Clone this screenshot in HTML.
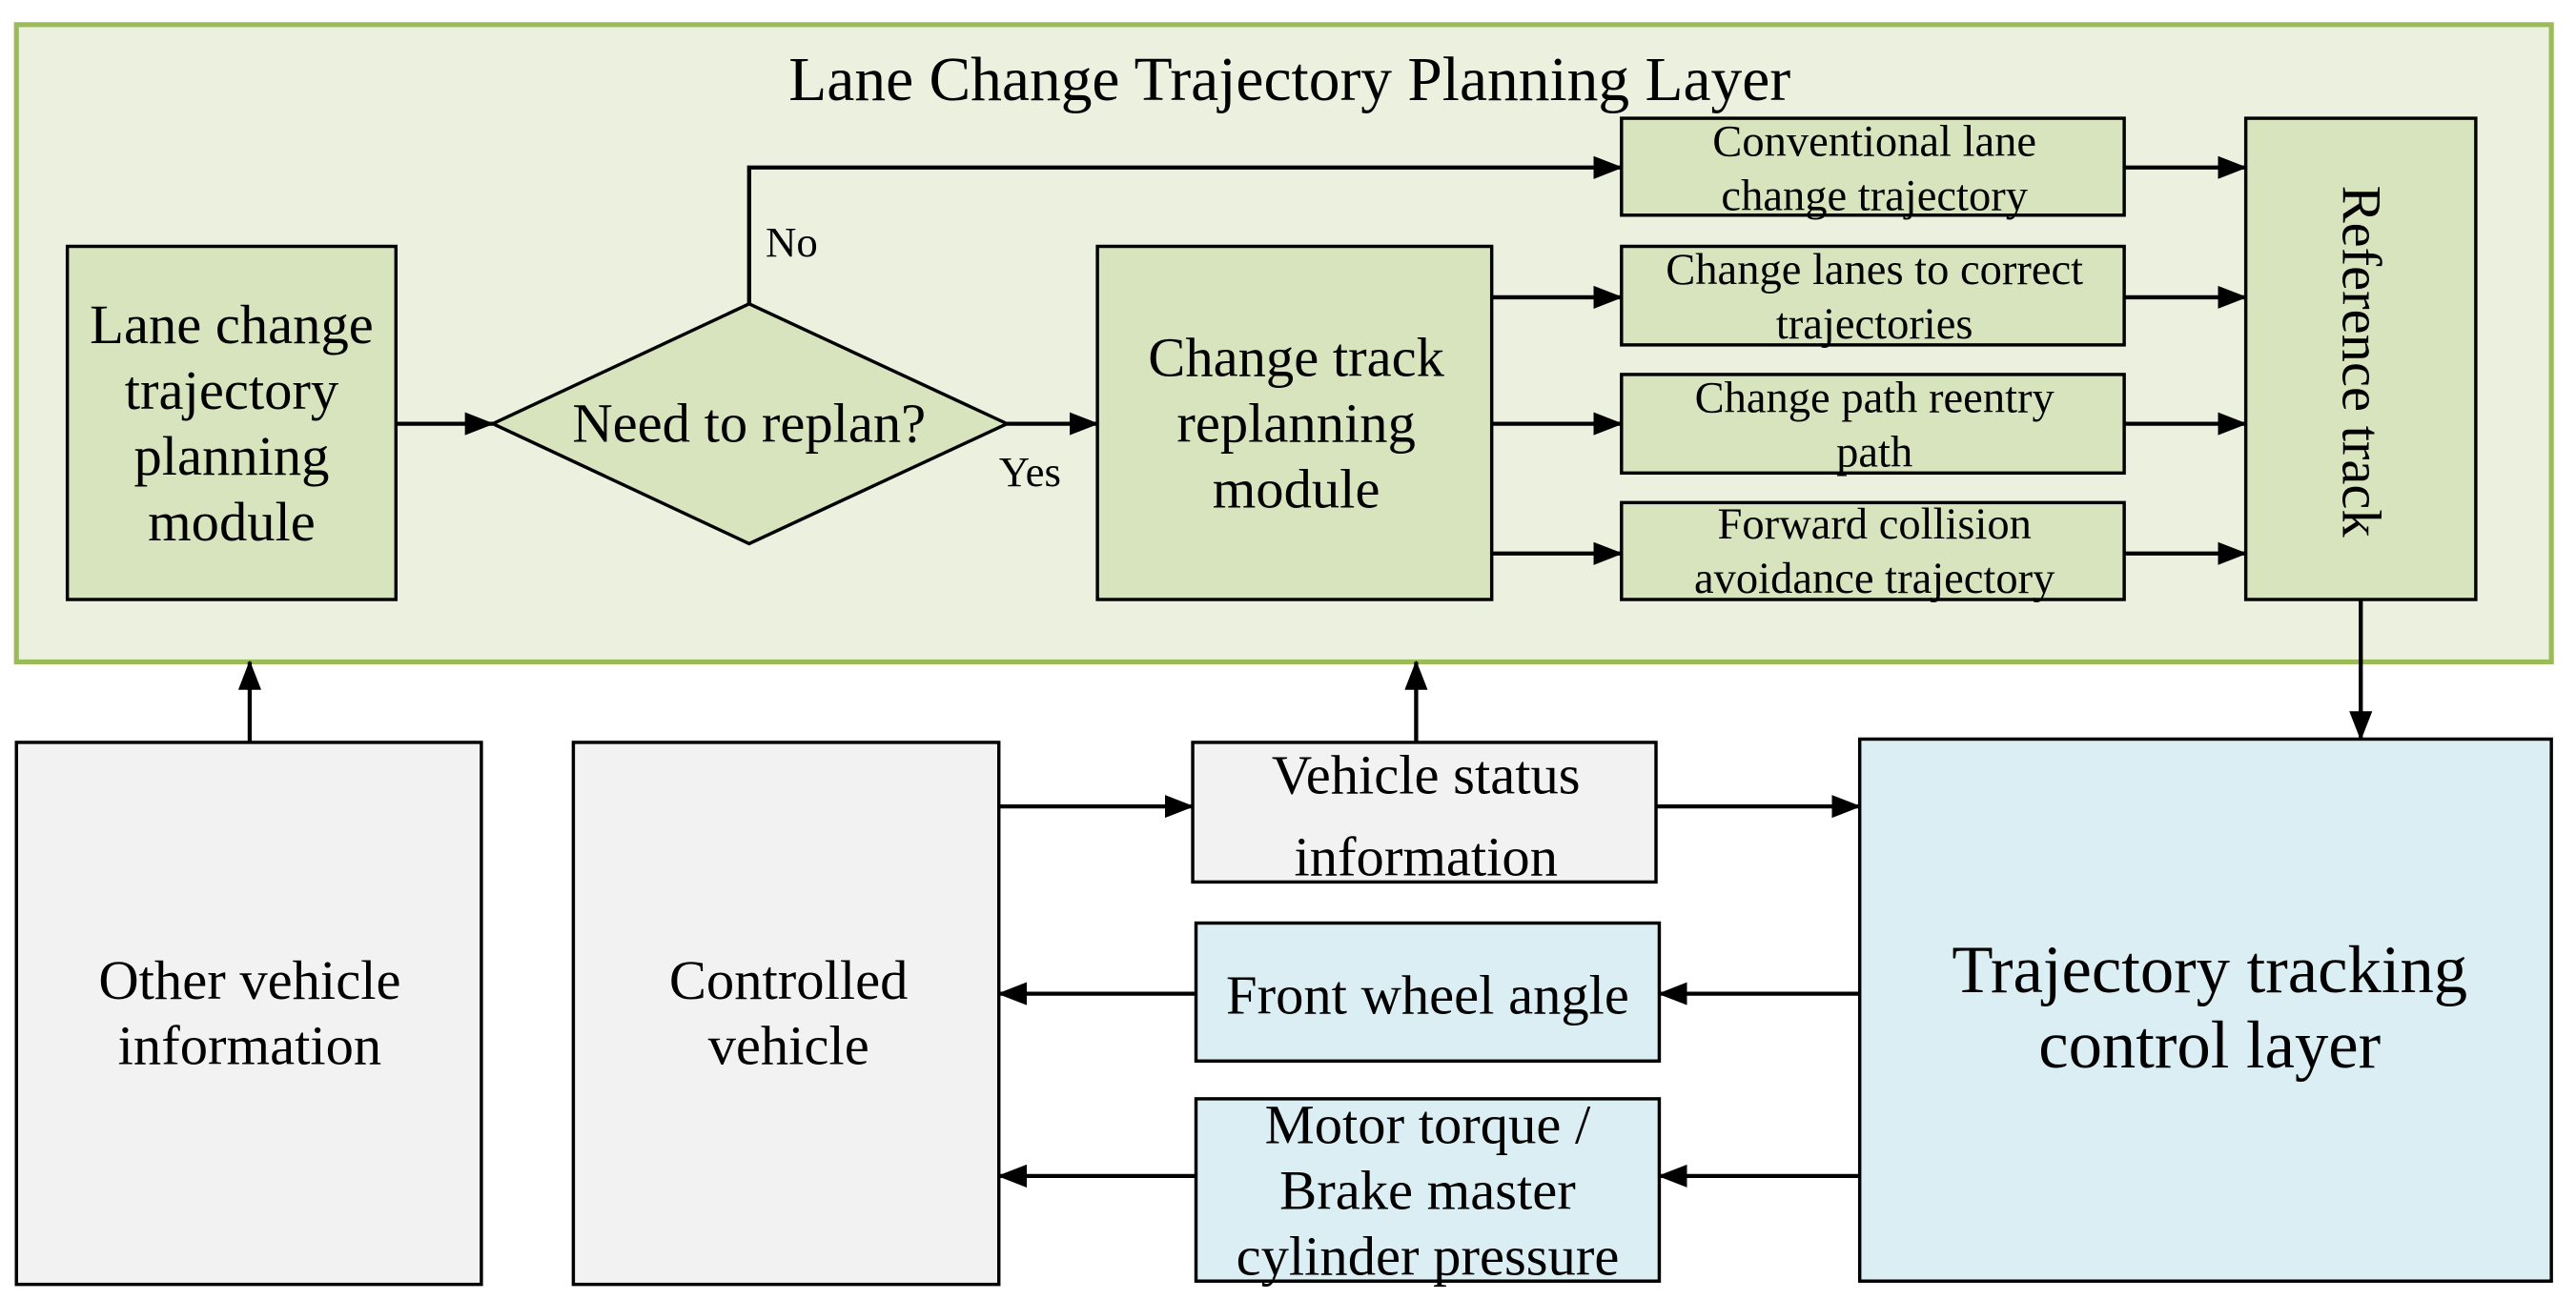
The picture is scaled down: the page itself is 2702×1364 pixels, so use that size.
<!DOCTYPE html>
<html><head><meta charset="utf-8"><style>
html,body{margin:0;padding:0;background:#fff;}
svg{display:block;}
text{font-family:"Liberation Serif",serif;fill:#000;}
</style></head><body>
<svg width="2702" height="1364" viewBox="0 0 1568 791.5" preserveAspectRatio="none" xmlns="http://www.w3.org/2000/svg">
<defs>
<marker id="b" markerWidth="18" markerHeight="14" refX="17" refY="7" orient="auto" markerUnits="userSpaceOnUse" viewBox="0 0 18 14">
<path d="M0,0 L18,7 L0,14 z" fill="#000"/>
</marker>
</defs>
<rect x="10" y="15" width="1543" height="388" fill="#ebf1de" stroke="#9bbb59" stroke-width="3"/>
<text x="785" y="61" font-size="38" text-anchor="middle">Lane Change Trajectory Planning Layer</text>

<g stroke="#000" stroke-width="2">
<rect x="41" y="150" width="200" height="215" fill="#d7e4bd"/>
<polygon points="300,258 456,185 613,258 456,331" fill="#d7e4bd"/>
<rect x="668" y="150" width="240" height="215" fill="#d7e4bd"/>
<rect x="987" y="72" width="306" height="59" fill="#d7e4bd"/>
<rect x="987" y="150" width="306" height="60" fill="#d7e4bd"/>
<rect x="987" y="228" width="306" height="60" fill="#d7e4bd"/>
<rect x="987" y="306" width="306" height="59" fill="#d7e4bd"/>
<rect x="1367" y="72" width="140" height="293" fill="#d7e4bd"/>
<rect x="10" y="452" width="283" height="330" fill="#f2f2f2"/>
<rect x="349" y="452" width="259" height="330" fill="#f2f2f2"/>
<rect x="726" y="452" width="282" height="85" fill="#f2f2f2"/>
<rect x="728" y="562" width="282" height="84" fill="#dbeef4"/>
<rect x="728" y="669" width="282" height="111" fill="#dbeef4"/>
<rect x="1132" y="450" width="421" height="330" fill="#dbeef4"/>
</g>

<g stroke="#000" stroke-width="2.5" fill="none" marker-end="url(#b)">
<line x1="241" y1="258" x2="300" y2="258"/>
<polyline points="456,185 456,102 987,102"/>
<line x1="613" y1="258" x2="668" y2="258"/>
<line x1="908" y1="181" x2="987" y2="181"/>
<line x1="908" y1="258" x2="987" y2="258"/>
<line x1="908" y1="337" x2="987" y2="337"/>
<line x1="1293" y1="102" x2="1367" y2="102"/>
<line x1="1293" y1="181" x2="1367" y2="181"/>
<line x1="1293" y1="258" x2="1367" y2="258"/>
<line x1="1293" y1="337" x2="1367" y2="337"/>
<line x1="1437" y1="365" x2="1437" y2="450"/>
<line x1="152" y1="452" x2="152" y2="403"/>
<line x1="862" y1="452" x2="862" y2="403"/>
<line x1="608" y1="491" x2="726" y2="491"/>
<line x1="1008" y1="491" x2="1132" y2="491"/>
<line x1="1132" y1="605" x2="1010" y2="605"/>
<line x1="728" y1="605" x2="608" y2="605"/>
<line x1="1132" y1="716" x2="1010" y2="716"/>
<line x1="728" y1="716" x2="608" y2="716"/>
</g>

<g font-size="34" text-anchor="middle">
<text x="141" y="209">Lane change</text>
<text x="141" y="249">trajectory</text>
<text x="141" y="289">planning</text>
<text x="141" y="329">module</text>
<text x="456" y="269">Need to replan?</text>
<text x="789" y="229">Change track</text>
<text x="789" y="269">replanning</text>
<text x="789" y="309">module</text>
<text x="152" y="608">Other vehicle</text>
<text x="152" y="648">information</text>
<text x="480" y="608">Controlled</text>
<text x="480" y="648">vehicle</text>
<text x="868" y="483">Vehicle status</text>
<text x="868" y="533">information</text>
<text x="869" y="617">Front wheel angle</text>
<text x="869" y="696">Motor torque /</text>
<text x="869" y="736">Brake master</text>
<text x="869" y="776">cylinder pressure</text>
<text x="1345" y="604" font-size="41">Trajectory tracking</text>
<text x="1345" y="650" font-size="41">control layer</text>
<text transform="translate(1426,220) rotate(90)" font-size="34">Reference track</text>
</g>
<g font-size="27" text-anchor="middle">
<text x="1141" y="95">Conventional lane</text>
<text x="1141" y="128">change trajectory</text>
<text x="1141" y="173">Change lanes to correct</text>
<text x="1141" y="206">trajectories</text>
<text x="1141" y="251">Change path reentry</text>
<text x="1141" y="284">path</text>
<text x="1141" y="328">Forward collision</text>
<text x="1141" y="361">avoidance trajectory</text>
</g>
<text x="466" y="156" font-size="26">No</text>
<text x="608" y="296" font-size="26">Yes</text>
</svg>
</body></html>
